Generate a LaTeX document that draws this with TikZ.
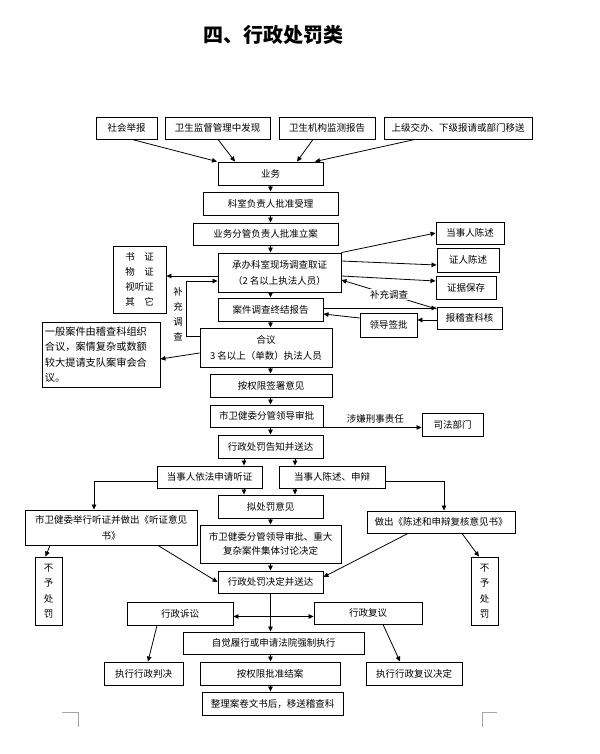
\documentclass[tikz,border=0pt]{standalone}
\usepackage{fontspec}
\newfontfamily\cjk{Noto Sans CJK SC}
\usetikzlibrary{arrows.meta}
\newcommand\mkbox[6]{\node[box,minimum width=#4pt,minimum height=#5pt] (#1) at (#2,#3) {#6};}
\begin{document}
\begin{tikzpicture}[x=1pt,y=-1pt,
 box/.style={draw, line width=0.9pt, inner sep=0pt, align=center, font=\cjk\fontsize{9.5}{16}\selectfont},
 arr/.style={line width=0.8pt, -{Triangle[length=5pt,width=4.5pt]}},
 ln/.style={line width=0.8pt},
 lbl/.style={font=\cjk\fontsize{9.5}{15}\selectfont, inner sep=1pt, align=center}]
\useasboundingbox (0,0) rectangle (599,754);
\node[font=\cjk\bfseries\fontsize{20}{24}\selectfont] (title) at (273,35) {四、行政处罚类};
% top row
\mkbox{sh}{126.5}{128}{61}{22}{社会举报}
\mkbox{ws}{217.5}{128}{105}{22}{卫生监督管理中发现}
\mkbox{wj}{327}{128}{96}{22}{卫生机构监测报告}
\mkbox{sj}{458}{128}{148}{22}{上级交办、下级报请或部门移送}
\mkbox{yw}{270.5}{173.5}{105}{23}{业务}
\mkbox{ks}{270.5}{203.5}{135}{23}{科室负责人批准受理}
\mkbox{la}{265.5}{234}{145}{22}{业务分管负责人批准立案}
\mkbox{cb}{279.5}{272.5}{123}{39}{承办科室现场调查取证\\（2 名以上执法人员）}
\node[box,minimum width=53pt,minimum height=67pt,font=\cjk\fontsize{9.5}{15}\selectfont] (sz) at (139.5,279.5) {书\hspace{1em}证\\物\hspace{1em}证\\视听证\\其\hspace{1em}它};
\mkbox{dc}{470}{233}{68}{22}{当事人陈述}
\mkbox{zr}{468}{260}{62}{24}{证人陈述}
\mkbox{zj}{466}{287.5}{60}{23}{证据保存}
\mkbox{bj}{469.5}{318}{65}{22}{报稽查科核}
\mkbox{ld}{388.5}{325}{57}{24}{领导签批}
\mkbox{aj}{270.5}{309.5}{105}{23}{案件调查终结报告}
\mkbox{hy}{266}{347.5}{132}{39}{合议\\3 名以上（单数）执法人员}
\node[box,minimum width=118pt,minimum height=65pt,align=left,font=\cjk\fontsize{10.2}{15.3}\selectfont] (yb) at (101,354.5) {一般案件由稽查科组织\\合议，案情复杂或数额\\较大提请支队案审会合\\议。\hphantom{案情复杂或数额较大}};
\mkbox{qx}{271}{385.5}{122}{23}{按权限签署意见}
\mkbox{sp}{266.5}{416}{113}{22}{市卫健委分管领导审批}
\mkbox{sf}{452.5}{424.5}{61}{23}{司法部门}
\mkbox{gz}{270.5}{446.5}{105}{23}{行政处罚告知并送达}
\mkbox{tz}{209.5}{477}{105}{22}{当事人依法申请听证}
\mkbox{cs}{332}{477}{106}{22}{当事人陈述、申辩}
\mkbox{nf}{270.5}{506.5}{105}{23}{拟处罚意见}
\node[box,minimum width=141pt,minimum height=38pt,font=\cjk\fontsize{9.5}{14.5}\selectfont] (jt) at (270.5,544) {市卫健委分管领导审批、重大\\复杂案件集体讨论决定};
\mkbox{jd}{270.5}{582}{105}{22}{行政处罚决定并送达}
\mkbox{ty}{111}{527.5}{172}{35}{市卫健委举行听证并做出《听证意见\\书》}
\node[box,minimum width=27pt,minimum height=68pt,font=\cjk\fontsize{9.5}{15.5}\selectfont] (byl) at (48.5,591) {不\\予\\处\\罚};
\mkbox{fh}{441}{522}{148}{22}{做出《陈述和申辩复核意见书》}
\node[box,minimum width=27pt,minimum height=68pt,font=\cjk\fontsize{9.5}{15.5}\selectfont] (byr) at (484.5,591) {不\\予\\处\\罚};
\mkbox{ss}{180}{613.5}{106}{23}{行政诉讼}
\mkbox{fy}{368}{613}{108}{22}{行政复议}
\mkbox{zx}{273.5}{643}{181}{22}{自觉履行或申请法院强制执行}
\mkbox{pj}{143.5}{673.5}{79}{23}{执行行政判决}
\mkbox{ja}{270}{673.5}{140}{23}{按权限批准结案}
\mkbox{fj}{414}{673.5}{96}{23}{执行行政复议决定}
\mkbox{zl}{272.5}{703.5}{141}{23}{整理案卷文书后，移送稽查科}
% helper coordinates
\coordinate (xa) at (244,0);
\coordinate (xb) at (295,0);
\coordinate (xc) at (94,0);
\coordinate (xd) at (444,0);
\coordinate (xs) at (270.5,0);
% top arrows
\draw[arr] ([xshift=5.5pt]sh.south) -- ([xshift=-53.5pt]yw.north);
\draw[arr] ([xshift=0.5pt]ws.south) -- ([xshift=-35.5pt]yw.north);
\draw[arr] ([xshift=-14pt]wj.south) -- ([xshift=26.5pt]yw.north);
\draw[arr] ([xshift=-43pt]sj.south) -- ([xshift=44.5pt]yw.north);
% spine
\draw[arr] (yw.south) -- (ks.north);
\draw[arr] (ks.south) -- (la.north -| xs);
\draw[arr] (la.south -| xs) -- (cb.north -| xs);
\draw[arr] (cb.south -| xs) -- (aj.north);
\draw[arr] (aj.south) -- (hy.north -| xs);
\draw[arr] (hy.south -| xs) -- (qx.north -| xs);
\draw[arr] (qx.south -| xs) -- (sp.north -| xs);
\draw[arr] (sp.south -| xs) -- (gz.north);
% investigation branches
\draw[arr] ([yshift=-3.5pt]cb.west) -- ([yshift=-3.5pt]cb.west -| sz.east);
\draw[arr] (cb.north east) -- (dc.west);
\draw[arr] ([yshift=11.5pt]cb.east) -- ([yshift=-5pt]zr.west);
\draw[arr] ([yshift=-3.5pt]cb.east) -- ([yshift=6.5pt]zj.west);
\draw[arr] ([yshift=9pt]bj.west) -- node[lbl,fill=white,pos=0.5] (bc) {补充调查} ([yshift=-7.5pt]cb.east);
\draw[arr] ([yshift=1.5pt]aj.east) -- ([yshift=1.5pt]aj.east -| bj.west);
\draw[arr] ([yshift=-2pt]bj.west) -- ([yshift=-2pt]bj.west -| ld.east);
\draw[arr] ([yshift=7pt]ld.west) -- ([yshift=-4.5pt]aj.east);
\draw[arr] ([yshift=11.5pt]hy.west) -- ++(-13,0) |- ([yshift=-8.5pt]cb.west);
\node[lbl,font=\cjk\fontsize{9.5}{15}\selectfont] (bcv) at (178,314.5) {补\\充\\调\\查};
\draw[arr] ([yshift=-5.5pt]hy.west) -- ([yshift=-4.5pt]yb.east);
% judicial
\draw[arr] (sp.south east) -- node[lbl,above,pos=0.53,yshift=3pt] (xz) {涉嫌刑事责任} (sp.south east -| sf.west);
% notification
\draw[arr] (gz.south -| xa) -- (tz.north -| xa);
\draw[arr] (gz.south -| xb) -- (cs.north -| xb);
\draw[arr] (tz.south -| xa) -- (nf.north -| xa);
\draw[arr] (cs.south -| xb) -- (nf.north -| xb);
\draw[arr] (nf.south) -- (jt.north);
\draw[arr] (jt.south) -- (jd.north);
\draw[arr] ([yshift=-4.5pt]tz.west) -| (ty.north -| xc);
\draw[arr] ([yshift=-4.5pt]cs.east) -| (fh.north -| xd);
\draw[arr] ([xshift=-61pt]ty.south) -- ([xshift=-3pt]byl.north);
\draw[arr] ([xshift=47pt]ty.south) -- (jd.west);
\draw[arr] ([xshift=-33pt]fh.south) -- ([yshift=5pt]jd.east);
\draw[arr] ([xshift=21pt]fh.south) -- ([xshift=-5.5pt]byr.north);
% decision
\path (jd.south) ++(0,23) coordinate (jn);
\draw[arr] (jd.south) -- (zx.north -| jd.south);
\draw[arr] (jn) -- (jn -| ss.east);
\draw[arr] (jn) -- (jn -| fy.west);
\draw[arr] ([xshift=-23pt]ss.south) -- ([xshift=4.5pt]pj.north);
\draw[arr] ([xshift=15pt]fy.south) -- ([xshift=-14pt]fj.north);
\draw[arr] (zx.south -| xs) -- (ja.north -| xs);
\draw[arr] (ja.south -| xs) -- (zl.north -| xs);
% page corner marks
\draw[black!35, line width=0.6pt] (62,712) -- (78,712) -- (78,727);
\draw[black!35, line width=0.6pt] (497,712) -- (482,712) -- (482,727);
\end{tikzpicture}
\end{document}
